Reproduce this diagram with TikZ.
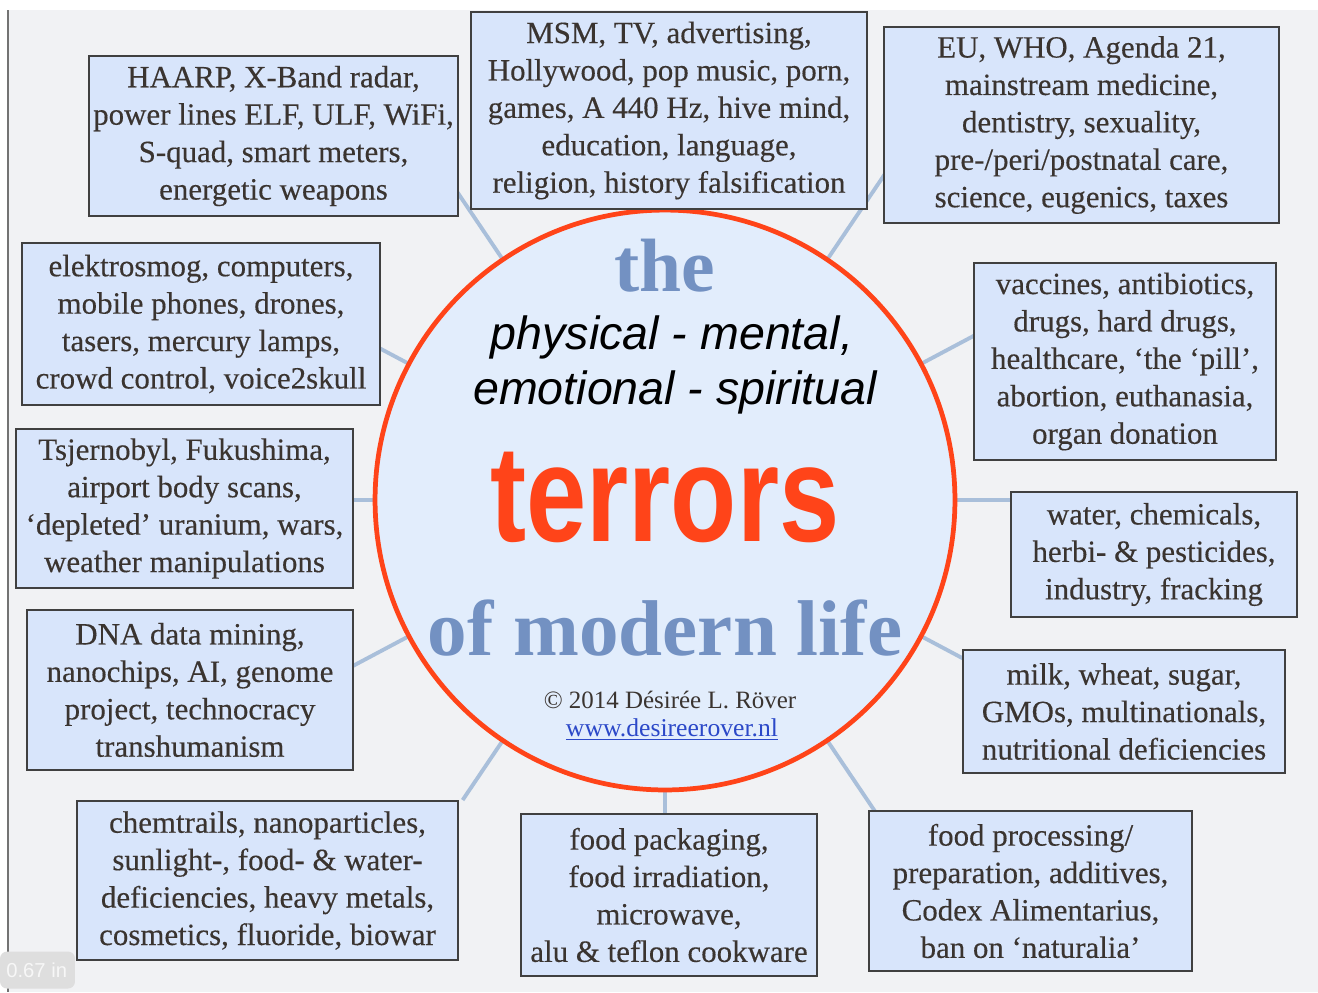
\documentclass[tikz,border=0pt]{standalone}
\usepackage{fontspec}
\setmainfont{Liberation Serif}
\newfontfamily\sansfam{Liberation Sans}
\newfontfamily\boxfam[FakeBold=0.3]{Liberation Serif}
\usetikzlibrary{positioning,backgrounds}

\definecolor{boxfill}{HTML}{D8E5FB}
\definecolor{hubfill}{HTML}{E2EDFC}
\definecolor{hubred}{HTML}{FF4419}
\definecolor{spokeblue}{HTML}{A9BFDA}
\definecolor{titleblue}{HTML}{7391C2}
\definecolor{paper}{HTML}{F1F2F4}
\definecolor{inkgrey}{HTML}{3A3430}
\definecolor{linkblue}{HTML}{2B48C8}

\begin{document}
\begin{tikzpicture}[x=0.02cm,y=-0.02cm,
			box/.style  = {draw=black!75, line width=1.2pt, fill=boxfill, align=center, inner sep=0pt,
				text=inkgrey, font=\boxfam\fontsize{17.6}{21.3}\selectfont},
			hub/.style  = {circle, draw=hubred, line width=2.7pt, fill=hubfill, minimum size=11.6cm, inner sep=0pt},
			spoke/.style= {draw=spokeblue, line width=2.2pt},
			bigblue/.style = {text=titleblue, font=\fontsize{43}{43}\selectfont\bfseries},
			slant/.style   = {font=\sansfam\itshape\fontsize{26.5}{30}\selectfont}]
			
			\useasboundingbox (0,0) rectangle (1318,992);
			
			% the hub in the middle
			\node[hub] (hub) at (665,500) {};
			
			% the boxes round it
			\node[box, minimum width=7.38cm, minimum height=3.2cm]  (b1)  at (273.5,136)  {HAARP, X-Band radar,\\power lines ELF, ULF, WiFi,\\S-quad, smart meters,\\energetic weapons};
			\node[box, minimum width=7.92cm, minimum height=3.94cm] (b2)  at (669,110.5)  {MSM, TV, advertising,\\Hollywood, pop music, porn,\\games, A 440 Hz, hive mind,\\education, language,\\religion, history falsification};
			\node[box, minimum width=7.9cm, minimum height=3.92cm]  (b3)  at (1081.5,125) {EU, WHO, Agenda 21,\\mainstream medicine,\\dentistry, sexuality,\\pre-/peri/postnatal care,\\science, eugenics, taxes};
			\node[box, minimum width=7.16cm, minimum height=3.24cm] (b4)  at (201,324)    {elektrosmog, computers,\\mobile phones, drones,\\tasers, mercury lamps,\\crowd control, voice2skull};
			\node[box, minimum width=6.04cm, minimum height=3.94cm] (b5)  at (1125,361.5) {vaccines, antibiotics,\\drugs, hard drugs,\\healthcare, ‘the ‘pill’,\\abortion, euthanasia,\\organ donation};
			\node[box, minimum width=6.74cm, minimum height=3.18cm] (b6)  at (184.5,508.5){Tsjernobyl, Fukushima,\\airport body scans,\\‘depleted’ uranium, wars,\\weather manipulations};
			\node[box, minimum width=5.72cm, minimum height=2.5cm]  (b7)  at (1154,554.5) {water, chemicals,\\herbi- \& pesticides,\\industry, fracking};
			\node[box, minimum width=6.52cm, minimum height=3.2cm]  (b8)  at (190,690)    {DNA data mining,\\nanochips, AI, genome\\project, technocracy\\transhumanism};
			\node[box, minimum width=6.44cm, minimum height=2.46cm] (b9)  at (1124,711.5) {milk, wheat, sugar,\\GMOs, multinationals,\\nutritional deficiencies};
			\node[box, minimum width=7.62cm, minimum height=3.18cm] (b10) at (267.5,880.5){chemtrails, nanoparticles,\\sunlight-, food- \& water-\\deficiencies, heavy metals,\\cosmetics, fluoride, biowar};
			\node[box, minimum width=5.92cm, minimum height=3.24cm] (b11) at (669,895)    {food packaging,\\food irradiation,\\microwave,\\alu \& teflon cookware};
			\node[box, minimum width=6.46cm, minimum height=3.2cm]  (b12) at (1030.5,891) {food processing/\\preparation, additives,\\Codex Alimentarius,\\ban on ‘naturalia’};
			
			% spokes and paper, behind everything
			\begin{scope}[on background layer]
				\fill[paper] (8,10) rectangle (1318,992);
				\draw[black!55, line width=0.8pt] (8,10) -- (8,992);
				\foreach \a/\r in {0/8.4, 28/8, 56/8, 90/7.6, 124/7.6, 152/8, 180/8, 208/8, 236/7.24, 270/8, 304/8, 332/8}{
					\path (hub.center) ++(\a:\r cm) coordinate (s\a);
					\draw[spoke] (hub.center) -- (s\a);
				}
			\end{scope}
			
			% text in the hub
			\node[bigblue] (the) at (665,266) {the};
			\node[slant] (phys) at (672,337) {physical - mental,};
			\node[slant] (emot) at (675,392) {emotional - spiritual};
			\node[text=hubred, font=\sansfam\bfseries\fontsize{78}{78}\selectfont, xscale=0.79] (terr) at (665,497) {terrors};
			\node[bigblue, font=\fontsize{45}{45}\selectfont\bfseries] (life) at (665,628) {of modern life};
			\node[text=inkgrey, font=\fontsize{14.2}{16}\selectfont] (copy) at (670,700) {© 2014 Désirée L. Röver};
			\node[text=linkblue, font=\fontsize{14.6}{16}\selectfont] (link) at (672,730) {\underline{www.desireerover.nl}};
			
			% ruler tip at the corner
			\node[fill=black!13, rounded corners=4pt, minimum width=1.5cm, minimum height=0.74cm, inner sep=0pt] (tip) at (37.5,970) {};
			\node[anchor=west, text=black!3, font=\sansfam\fontsize{11.5}{12}\selectfont, inner sep=0pt] (tiptext) at (6,970) {0.67 in};
		\end{tikzpicture}
\end{document}
